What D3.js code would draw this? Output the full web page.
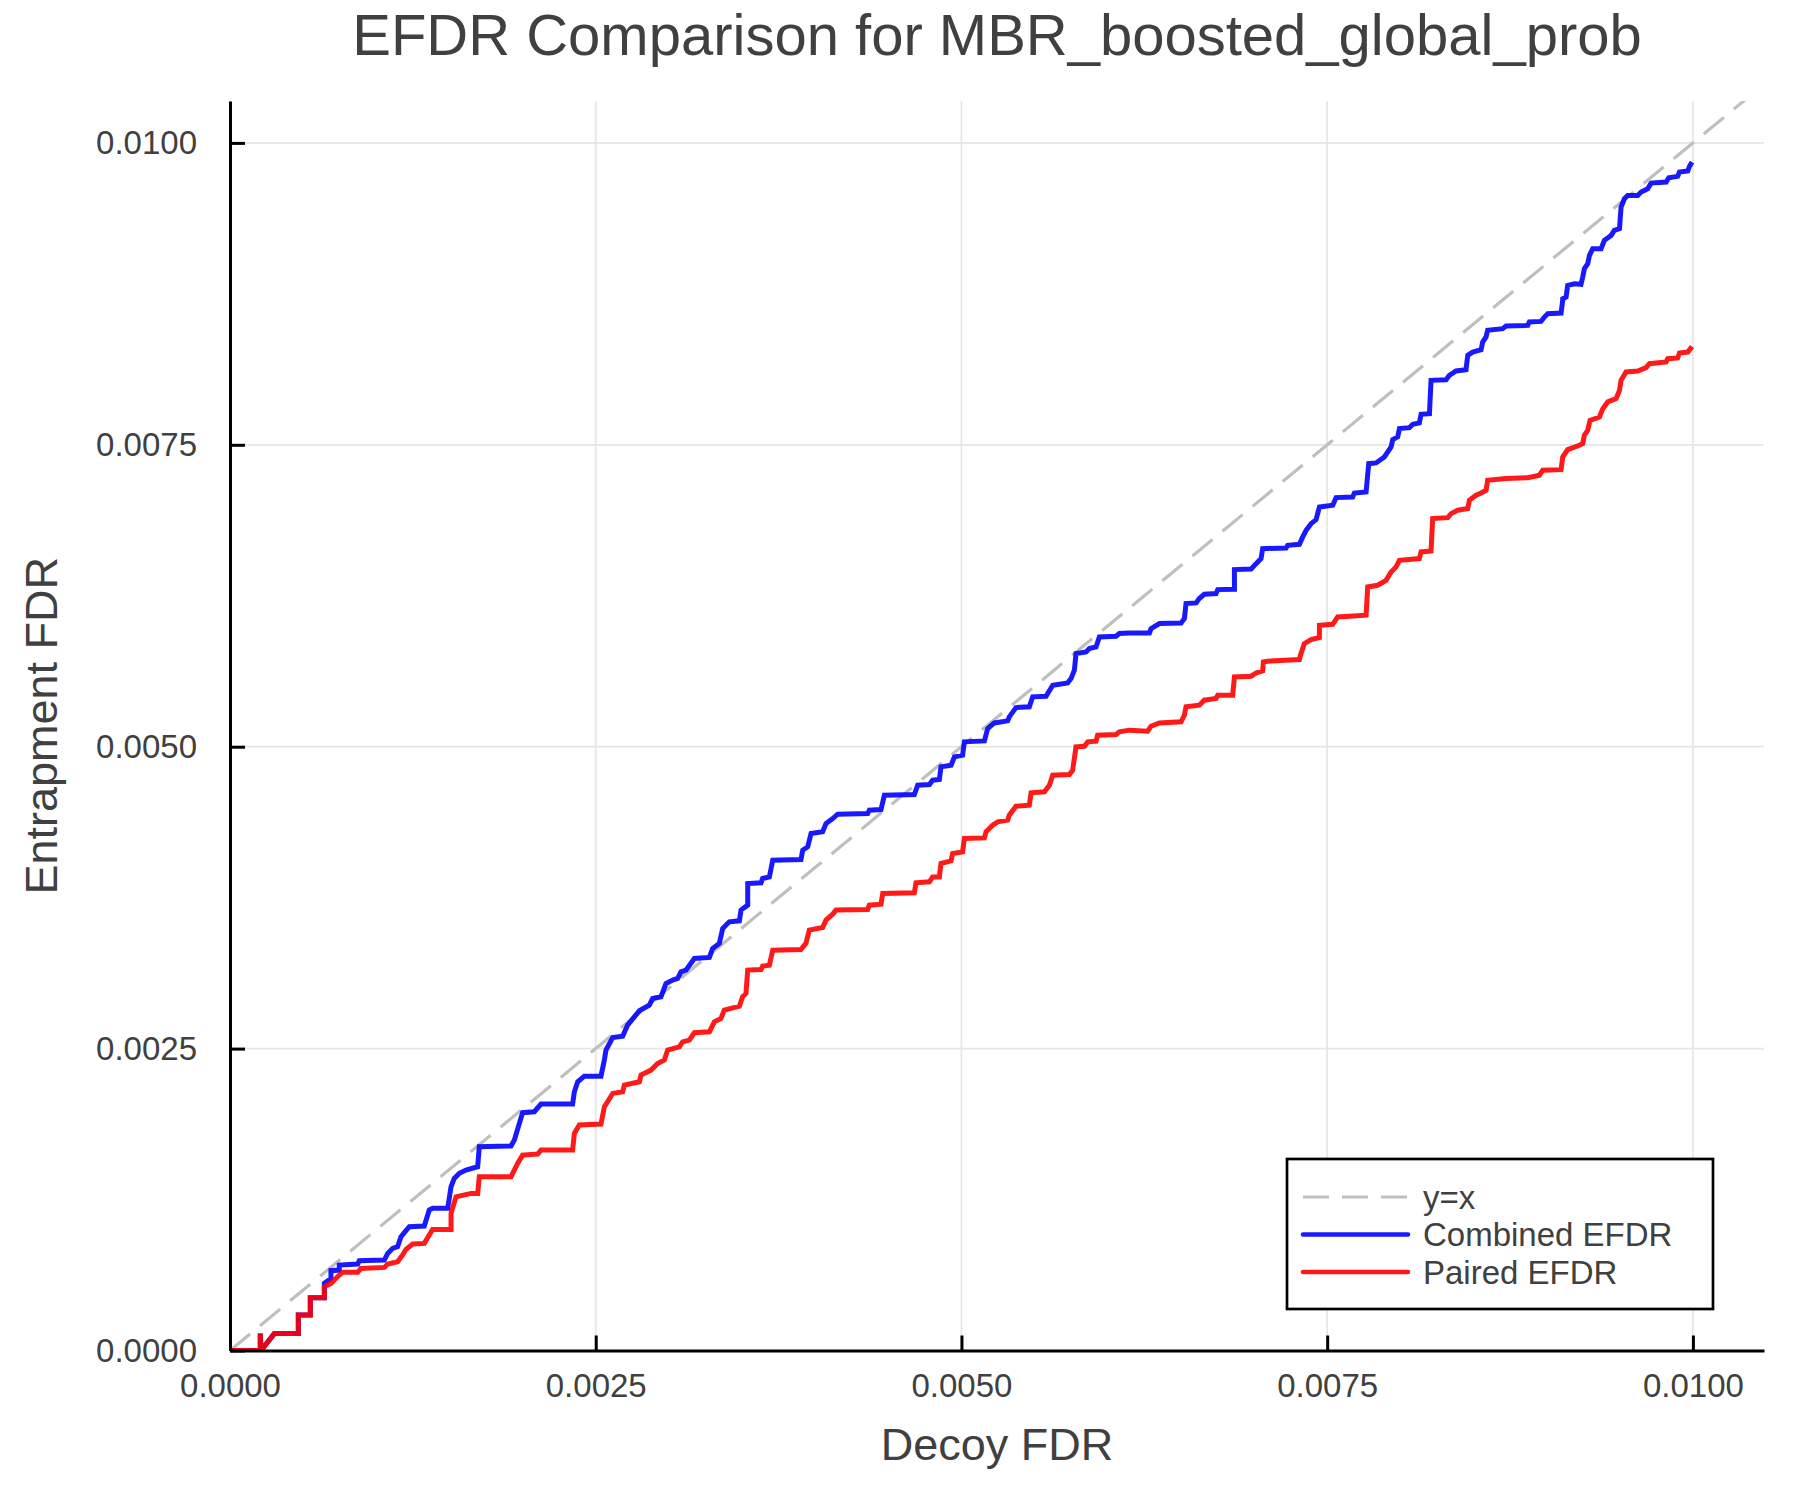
<!DOCTYPE html>
<html>
<head>
<meta charset="utf-8">
<script src="https://cdn.jsdelivr.net/npm/d3@7/dist/d3.min.js"></script>
<style>
    body { margin: 0; background: #FFFFFF; }
    text { font-family: "Liberation Sans", Arial, Helvetica, sans-serif; fill: #404040; }
</style>
</head>
<body>
<div class="EFDR-canvas"></div>
<script>
// values
const tickValues = [0, 0.0025, 0.005, 0.0075, 0.01];
const seriesNames = ['y=x', 'Combined EFDR', 'Paired EFDR'];
const diagonal = [0, 0.0105];

const decoyCombined = [0, 0.000207, 0.000207, 0.000212, 0.000303, 0.000451, 0.000467, 0.000467, 0.000549, 0.000549,
    0.000645, 0.000645, 0.00069, 0.00069, 0.000747, 0.000747, 0.000873, 0.000884, 0.001055, 0.001078,
    0.001112, 0.001146, 0.001169, 0.001203, 0.001226, 0.001328, 0.001362, 0.001385, 0.001488, 0.001511,
    0.001533, 0.001568, 0.001613, 0.001693, 0.001704, 0.001921, 0.001944, 0.001978, 0.002, 0.00208,
    0.002126, 0.002342, 0.002354, 0.002377, 0.002422, 0.002536, 0.002559, 0.00257, 0.002616, 0.002684,
    0.002718, 0.002798, 0.002866, 0.002889, 0.002946, 0.00298, 0.00303, 0.00306, 0.003083, 0.003117,
    0.003174, 0.003277, 0.003299, 0.003345, 0.003368, 0.003413, 0.003482, 0.003493, 0.003539, 0.003539,
    0.00363, 0.003641, 0.003687, 0.00371, 0.003903, 0.003915, 0.003949, 0.003972, 0.004051, 0.004074,
    0.00412, 0.004154, 0.004359, 0.00437, 0.00445, 0.004473, 0.004678, 0.004701, 0.004781, 0.004803,
    0.004849, 0.00486, 0.004929, 0.004952, 0.005008, 0.00502, 0.005157, 0.005179, 0.005225, 0.005316,
    0.005327, 0.005373, 0.005464, 0.005487, 0.005578, 0.005624, 0.005726, 0.005749, 0.005772, 0.005783,
    0.005852, 0.005874, 0.00592, 0.005943, 0.006057, 0.006079, 0.006148, 0.006285, 0.006296, 0.006353,
    0.006501, 0.006524, 0.006535, 0.006604, 0.006626, 0.00666, 0.00674, 0.006752, 0.006866, 0.006866,
    0.00698, 0.007014, 0.007048, 0.007059, 0.007219, 0.00723, 0.00731, 0.007333, 0.007356, 0.00739,
    0.007424, 0.007447, 0.007538, 0.007561, 0.007674, 0.007686, 0.007766, 0.007784, 0.007834, 0.007891,
    0.007914, 0.007937, 0.007948, 0.007982, 0.007994, 0.008062, 0.008085, 0.00813, 0.008142, 0.008199,
    0.00821, 0.008313, 0.008335, 0.008381, 0.008449, 0.008461, 0.008495, 0.008552, 0.008563, 0.008586,
    0.008597, 0.0087, 0.008723, 0.008871, 0.008882, 0.008962, 0.008985, 0.009008, 0.009099, 0.00911,
    0.00911, 0.009133, 0.009144, 0.00919, 0.009235, 0.009247, 0.009258, 0.009281, 0.009293, 0.009315,
    0.009372, 0.009395, 0.009441, 0.009463, 0.009498, 0.009509, 0.009532, 0.009554, 0.009623, 0.009646,
    0.009691, 0.009714, 0.009817, 0.009835, 0.009896, 0.009908, 0.009965, 0.009976, 0.009994];

const efdrCombined = [0, 0, 0.00014, 0, 0.00014, 0.00014, 0.00014, 0.000294, 0.000294, 0.000437,
    0.000437, 0.000556, 0.000597, 0.000661, 0.000666, 0.000708, 0.000716, 0.000744, 0.000749, 0.000804,
    0.000846, 0.00086, 0.000942, 0.000992, 0.001025, 0.001031, 0.001163, 0.001177, 0.001177, 0.001356,
    0.001425, 0.001467, 0.001494, 0.001522, 0.001687, 0.001693, 0.001743, 0.001881, 0.001969, 0.001977,
    0.002041, 0.002041, 0.002143, 0.002225, 0.002272, 0.002272, 0.002405, 0.002488, 0.002592, 0.002603,
    0.002695, 0.002813, 0.00286, 0.002915, 0.002929, 0.003039, 0.00307, 0.003081, 0.003136, 0.00315,
    0.003246, 0.003255, 0.003329, 0.003371, 0.003495, 0.00355, 0.003558, 0.003647, 0.003688, 0.003867,
    0.003873, 0.003909, 0.003922, 0.00406, 0.004066, 0.004143, 0.004171, 0.004281, 0.004295, 0.004364,
    0.004405, 0.004441, 0.004447, 0.004474, 0.00448, 0.004599, 0.004604, 0.004681, 0.004687, 0.004723,
    0.004728, 0.004833, 0.004847, 0.004916, 0.00493, 0.00504, 0.005048, 0.00515, 0.005197, 0.005214,
    0.005247, 0.005324, 0.00533, 0.005413, 0.005418, 0.005509, 0.005528, 0.005564, 0.005633, 0.005771,
    0.005785, 0.005813, 0.005826, 0.005909, 0.005915, 0.005937, 0.005942, 0.005942, 0.005978, 0.00602,
    0.006025, 0.006061, 0.006185, 0.006191, 0.006227, 0.006262, 0.006268, 0.006301, 0.006304, 0.006467,
    0.006472, 0.006516, 0.006558, 0.00664, 0.006646, 0.006668, 0.006676, 0.006737, 0.006792, 0.006847,
    0.006881, 0.006985, 0.006999, 0.007063, 0.007068, 0.007101, 0.00711, 0.007344, 0.00735, 0.007399,
    0.007441, 0.007482, 0.007543, 0.007565, 0.007634, 0.007642, 0.00767, 0.007681, 0.007752, 0.007758,
    0.008034, 0.008039, 0.008075, 0.008111, 0.008122, 0.008241, 0.008268, 0.008288, 0.008351, 0.008393,
    0.008448, 0.008462, 0.008484, 0.008489, 0.008517, 0.008522, 0.008558, 0.008586, 0.008591, 0.008696,
    0.00871, 0.008724, 0.00882, 0.008834, 0.008829, 0.008889, 0.008958, 0.009, 0.009069, 0.009124,
    0.009124, 0.009193, 0.009234, 0.009276, 0.00929, 0.009469, 0.009538, 0.009565, 0.009565, 0.009593,
    0.00962, 0.009667, 0.009676, 0.009712, 0.009723, 0.009759, 0.009767, 0.009805, 0.009841];

const decoyPaired = [0, 0.000207, 0.000207, 0.000212, 0.000303, 0.000451, 0.000467, 0.000467, 0.000549, 0.000549,
    0.000645, 0.000645, 0.00069, 0.000713, 0.000747, 0.00077, 0.000873, 0.000895, 0.001055, 0.001078,
    0.001146, 0.00118, 0.001203, 0.001249, 0.001328, 0.001362, 0.001385, 0.001511, 0.001511, 0.001545,
    0.001647, 0.001693, 0.001704, 0.001921, 0.001966, 0.002, 0.002103, 0.002126, 0.002342, 0.002354,
    0.002388, 0.002536, 0.002559, 0.002616, 0.002684, 0.002696, 0.002798, 0.00281, 0.002878, 0.002923,
    0.002969, 0.002992, 0.003071, 0.003094, 0.00314, 0.003174, 0.003277, 0.003311, 0.003356, 0.003379,
    0.003482, 0.003504, 0.003527,
    0.003539, 0.00363, 0.003641, 0.003687, 0.00371, 0.003903, 0.003937, 0.00396, 0.004051, 0.004074,
    0.00412, 0.004143, 0.004359, 0.00437, 0.00445, 0.004462, 0.004678, 0.004689, 0.004781, 0.004803,
    0.004849, 0.00486, 0.004929, 0.00494, 0.005008, 0.00502, 0.005157, 0.005168, 0.005213, 0.005248,
    0.005316, 0.005327, 0.005373, 0.005464, 0.005476, 0.005567, 0.005601, 0.005624, 0.005738, 0.00576,
    0.005783, 0.00584, 0.005863, 0.00592, 0.005931, 0.006057, 0.006079, 0.006148, 0.006273, 0.006296,
    0.006353, 0.006501, 0.006524, 0.006535, 0.006626, 0.00666, 0.00674, 0.006752, 0.006854, 0.006866,
    0.00698, 0.007014, 0.007059, 0.007064, 0.007093, 0.00731, 0.007321, 0.007344, 0.00739, 0.007447,
    0.007447, 0.007538, 0.007572, 0.007766, 0.007777, 0.007845, 0.007902, 0.007937, 0.007971, 0.007994,
    0.00813, 0.008142, 0.00821, 0.008221, 0.008324, 0.008347, 0.008392, 0.008461, 0.008472, 0.008518,
    0.008552, 0.008586, 0.008597, 0.008723, 0.008871, 0.008951, 0.008973, 0.009099, 0.00911, 0.009144,
    0.009224, 0.009247, 0.009258, 0.009281, 0.009297, 0.009361, 0.009384, 0.009418, 0.009475, 0.009498,
    0.009509, 0.009543, 0.009623, 0.00968, 0.009703, 0.009817, 0.009828, 0.009896, 0.009908, 0.009965,
    0.009994];

const efdrPaired = [0, 0, 0.00014, 0, 0.00014, 0.00014, 0.00014, 0.000294, 0.000294, 0.000437,
    0.000437, 0.000528, 0.000556, 0.000584, 0.000625, 0.000647, 0.000647, 0.00068, 0.000688, 0.000716,
    0.000735, 0.000791, 0.000838, 0.000882, 0.000887, 0.000956, 0.001003, 0.001003, 0.001136, 0.001273,
    0.001301, 0.001301, 0.001439, 0.001439, 0.001549, 0.001618, 0.001627, 0.00166, 0.00166, 0.001798,
    0.001867, 0.001875, 0.002018, 0.002129, 0.002143, 0.002198, 0.002225, 0.002281, 0.002322, 0.002377,
    0.002405, 0.002488, 0.002515, 0.002556, 0.00257, 0.002631, 0.002639, 0.002722, 0.00275, 0.002819,
    0.002852, 0.002929, 0.002957,
    0.00315, 0.003155, 0.003183, 0.003191, 0.003315, 0.003321, 0.003371, 0.003481, 0.003503, 0.003564,
    0.003613, 0.003647, 0.003652, 0.003688, 0.003696, 0.003785, 0.00379, 0.003873, 0.003881, 0.003922,
    0.003922, 0.004033, 0.004055, 0.004116, 0.004129, 0.00424, 0.004245, 0.004295, 0.00435, 0.004378,
    0.004392, 0.004433, 0.004507, 0.004516, 0.004618, 0.004626, 0.004681, 0.004764, 0.00477, 0.004805,
    0.004999, 0.005004, 0.00504, 0.005046, 0.005095, 0.005101, 0.005123, 0.005137, 0.005128, 0.00517,
    0.005197, 0.005206, 0.005261, 0.00533, 0.005344, 0.005385, 0.005399, 0.005426, 0.005426, 0.005578,
    0.005584, 0.005611, 0.005628, 0.005702, 0.005708, 0.005722, 0.005771, 0.005854, 0.005887, 0.005904,
    0.006006, 0.006014, 0.006075, 0.006089, 0.006323, 0.006337, 0.006378, 0.006447, 0.006489, 0.006544,
    0.006558, 0.006613, 0.006621, 0.006889, 0.006897, 0.00693, 0.006958, 0.006972, 0.007041, 0.007082,
    0.007101, 0.007123, 0.007206, 0.00722, 0.007228, 0.007248, 0.007289, 0.007294, 0.007399, 0.00746,
    0.007496, 0.00751, 0.007579, 0.00762, 0.007703, 0.00773, 0.007799, 0.007855, 0.007882, 0.007951,
    0.008034, 0.008103, 0.008111, 0.008139, 0.008172, 0.008186, 0.008213, 0.008219, 0.00826, 0.008268,
    0.008315];

const width = 1800;
const height = 1500;
const plot = { left: 230, right: 1764, top: 101, bottom: 1350.5 };
const xMax = 0.010486;
const yMax = 0.010347;

const svg = d3.select('.EFDR-canvas')
    .append('svg')
    .attr('width', width)
    .attr('height', height)
    .style('display', 'block')
    .style('background', '#FFFFFF');

const xScale = d3.scaleLinear().domain([0, xMax]).range([plot.left, plot.right]);
const yScale = d3.scaleLinear().domain([0, yMax]).range([plot.bottom, plot.top]);

svg.append('clipPath')
    .attr('id', 'plot-clip')
    .append('rect')
    .attr('x', plot.left)
    .attr('y', plot.top)
    .attr('width', plot.right - plot.left)
    .attr('height', plot.bottom - plot.top);

// grid
svg.append('g')
    .selectAll('line')
    .data(tickValues).enter()
    .append('line')
    .attr('x1', d => xScale(d)).attr('x2', d => xScale(d))
    .attr('y1', plot.top).attr('y2', plot.bottom)
    .attr('stroke', '#E6E6E6')
    .attr('stroke-width', 1.7);

svg.append('g')
    .selectAll('line')
    .data(tickValues).enter()
    .append('line')
    .attr('x1', plot.left).attr('x2', plot.right)
    .attr('y1', d => yScale(d)).attr('y2', d => yScale(d))
    .attr('stroke', '#E6E6E6')
    .attr('stroke-width', 1.7);

// series
const line = d3.line()
    .x(d => xScale(d[0]))
    .y(d => yScale(d[1]));

const series = [
    { name: seriesNames[0], points: diagonal.map(v => [v, v]), color: '#BFBFBF', width: 3.2, dash: '26,13', opacity: 1 },
    { name: seriesNames[1], points: decoyCombined.map((x, i) => [x, efdrCombined[i]]), color: '#0000FF', width: 5, dash: null, opacity: 0.9 },
    { name: seriesNames[2], points: decoyPaired.map((x, i) => [x, efdrPaired[i]]), color: '#FF0000', width: 5, dash: null, opacity: 0.9 }
];

svg.append('g')
    .attr('clip-path', 'url(#plot-clip)')
    .selectAll('path')
    .data(series).enter()
    .append('path')
    .attr('d', d => line(d.points))
    .attr('fill', 'none')
    .attr('stroke', d => d.color)
    .attr('stroke-opacity', d => d.opacity)
    .attr('stroke-width', d => d.width)
    .attr('stroke-dasharray', d => d.dash)
    .attr('stroke-linejoin', 'miter')
    .attr('stroke-miterlimit', 2);

// axes
const fmt = d3.format('.4f');

const xAxis = svg.append('g')
    .attr('transform', `translate(0, ${plot.bottom})`)
    .call(d3.axisBottom(xScale).tickValues(tickValues).tickFormat(fmt)
        .tickSizeInner(-15).tickSizeOuter(0).tickPadding(23));

const yAxis = svg.append('g')
    .attr('transform', `translate(${plot.left}, 0)`)
    .call(d3.axisLeft(yScale).tickValues(tickValues).tickFormat(fmt)
        .tickSizeInner(-15).tickSizeOuter(0).tickPadding(33));

[xAxis, yAxis].forEach(g => {
    g.select('.domain').attr('stroke', '#000000').attr('stroke-width', 3);
    g.selectAll('.tick line').attr('stroke', '#000000').attr('stroke-width', 3);
    g.selectAll('.tick text')
        .attr('fill', '#404040')
        .style('font-size', '33px')
        .style('font-family', '"Liberation Sans", Arial, sans-serif');
});

// titles
svg.append('text')
    .attr('x', (plot.left + plot.right) / 2)
    .attr('y', 55)
    .attr('text-anchor', 'middle')
    .style('font-size', '58px')
    .text('EFDR Comparison for MBR_boosted_global_prob');

svg.append('text')
    .attr('x', (plot.left + plot.right) / 2)
    .attr('y', 1460)
    .attr('text-anchor', 'middle')
    .style('font-size', '45px')
    .text('Decoy FDR');

svg.append('text')
    .attr('transform', `translate(57, ${(plot.top + plot.bottom) / 2}) rotate(-90)`)
    .attr('text-anchor', 'middle')
    .style('font-size', '45px')
    .text('Entrapment FDR');

// legend
const legend = svg.append('g');

legend.append('rect')
    .attr('x', 1287)
    .attr('y', 1159)
    .attr('width', 426)
    .attr('height', 150)
    .attr('fill', '#FFFFFF')
    .attr('stroke', '#000000')
    .attr('stroke-width', 2.7);

const rows = legend.selectAll('.legend-row')
    .data(series).enter()
    .append('g')
    .attr('class', 'legend-row')
    .attr('transform', (d, i) => `translate(1303, ${1197 + i * 37.5})`);

rows.append('line')
    .attr('x1', 0).attr('x2', 105)
    .attr('stroke', d => d.color)
    .attr('stroke-opacity', d => d.opacity)
    .attr('stroke-width', d => d.dash ? 3.2 : 4.5)
    .attr('stroke-dasharray', d => d.dash)
    .attr('stroke-linecap', d => d.dash ? 'butt' : 'round');

rows.append('text')
    .attr('x', 120)
    .attr('dy', '0.36em')
    .style('font-size', '33px')
    .text(d => d.name);
</script>
</body>
</html>
